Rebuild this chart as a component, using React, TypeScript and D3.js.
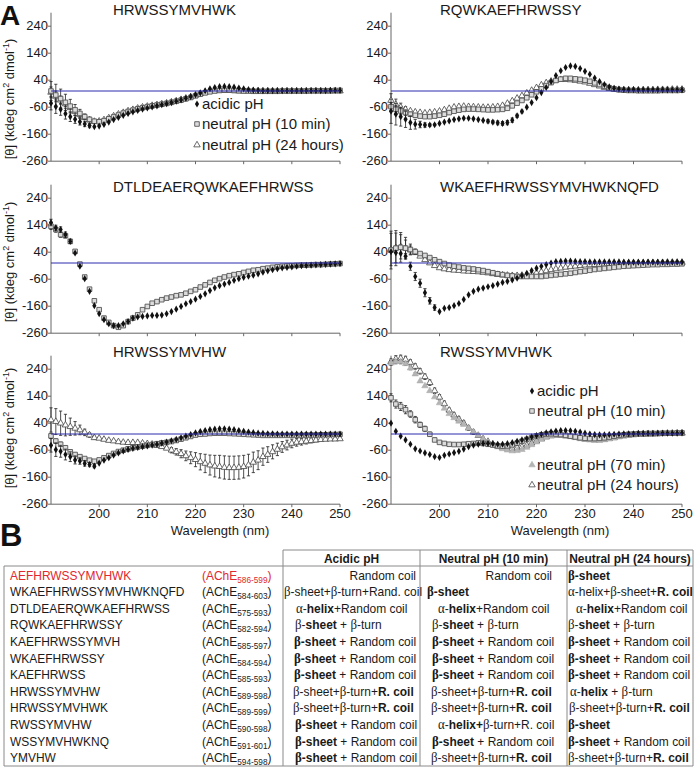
import React from "react";
import * as d3 from "d3";

// ---------------- DATA ----------------
const wavelengths = d3.range(190, 251); // 190..250 nm, 1 nm steps
const yTicks = [-260, -160, -60, 40, 140, 240];
const xTicks = [200, 210, 220, 230, 240, 250];
const xTickLabels = ["200", "210", "220", "230", "240", "250"];

const panelTitles = [
  "HRWSSYMVHWK",
  "RQWKAEFHRWSSY",
  "DTLDEAERQWKAEFHRWSS",
  "WKAEFHRWSSYMVHWKNQFD",
  "HRWSSYMVHW",
  "RWSSYMVHWK",
];

const legendLabels = {
  acidic: "acidic pH",
  n10: "neutral pH (10 min)",
  n70: "neutral pH (70 min)",
  n24: "neutral pH (24 hours)",
};

// Panel 1 HRWSSYMVHWK
const p1Acidic = [-45, -58, -68, -84, -95, -105, -114, -122, -128, -132, -130, -124, -115, -106, -98, -90, -83, -77, -72, -67, -63, -59, -55, -51, -47, -43, -38, -33, -27, -21, -14, -7, 1, 8, 13, 16, 17, 16, 14, 11, 8, 5, 3, 2, 1, 1, 1, 1, 1, 1, 1, 1, 1, 1, 1, 1, 1, 1, 2, 2, 2];
const p1Neutral10 = [0, -15, -28, -42, -56, -70, -83, -95, -105, -112, -114, -110, -103, -96, -89, -82, -76, -71, -66, -62, -58, -55, -52, -49, -46, -42, -38, -34, -29, -24, -18, -12, -7, -3, 0, 2, 3, 3, 2, 1, 0, 0, -1, -1, -1, -1, -1, -1, 0, 0, 0, 0, 0, 0, 1, 1, 1, 1, 1, 2, 2];
const p1Neutral24 = [-5, -20, -34, -48, -62, -76, -88, -99, -108, -113, -112, -107, -100, -93, -86, -80, -74, -69, -64, -60, -57, -54, -51, -48, -45, -41, -37, -32, -27, -22, -16, -10, -5, -1, 1, 2, 2, 2, 1, 0, 0, 0, 0, 0, 0, 0, 0, 0, 0, 0, 0, 0, 0, 0, 0, 0, 0, 0, 0, 0, 0];
const p1AcidicErr = [25, 25, 22, 20, 18, 15, 12, 10, 8];
const p1Neutral10Err = [35, 40, 35, 30, 25, 20, 15, 10, 8, 6];
const p1Neutral24Err = [20, 20, 15, 10];

// Panel 2 RQWKAEFHRWSSY
const p2Acidic = [-75, -86, -95, -105, -117, -123, -124, -126, -126, -125, -120, -115, -111, -106, -103, -101, -101, -103, -106, -109, -112, -115, -118, -120, -117, -108, -92, -76, -60, -43, -25, -6, 13, 35, 57, 75, 87, 93, 91, 83, 73, 62, 48, 35, 24, 15, 10, 7, 6, 5, 5, 4, 4, 4, 4, 4, 4, 4, 4, 4, 4];
const p2Neutral10 = [-58, -68, -74, -80, -86, -90, -93, -95, -95, -93, -90, -86, -80, -75, -71, -68, -67, -67, -68, -69, -70, -70, -69, -68, -64, -55, -45, -35, -25, -14, -3, 8, 20, 31, 39, 44, 47, 47, 45, 43, 40, 36, 30, 24, 18, 12, 8, 5, 3, 2, 2, 1, 1, 1, 1, 1, 2, 2, 2, 2, 3];
const p2Neutral24 = [-35, -50, -60, -68, -74, -78, -80, -82, -80, -78, -75, -70, -65, -60, -58, -57, -58, -59, -60, -61, -61, -60, -58, -54, -46, -37, -27, -18, -8, 2, 12, 22, 30, 36, 40, 42, 42, 41, 39, 36, 33, 28, 23, 18, 13, 9, 6, 4, 3, 3, 3, 3, 4, 4, 4, 5, 5, 5, 6, 6, 6];
const p2AcidicErr = [45, 40, 35, 30, 25, 18, 12, 8, 5, 3, 0, 0, 0, 0, 0, 0, 0, 0, 0, 0, 6, 6, 7, 7, 8, 8, 6, 5];
const p2Neutral10Err = [15, 15, 12, 10, 8, 6];
const p2Neutral24Err = [25, 20, 15, 10];

// Panel 3 DTLDEAERQWKAEFHRWSS
const p3Acidic = [150, 130, 124, 105, 80, 37, -12, -58, -105, -158, -188, -210, -225, -232, -232, -225, -217, -204, -200, -198, -196, -194, -194, -193, -188, -180, -171, -161, -151, -143, -134, -124, -114, -102, -92, -84, -78, -72, -64, -58, -53, -49, -45, -40, -34, -29, -25, -21, -18, -16, -14, -12, -10, -9, -8, -7, -6, -5, -4, -3, -2];
const p3Neutral10 = [136, 124, 105, 101, 80, 43, -4, -52, -97, -140, -173, -204, -220, -232, -238, -232, -217, -204, -192, -173, -161, -149, -143, -136, -130, -126, -121, -118, -112, -105, -99, -89, -81, -72, -64, -58, -52, -47, -43, -40, -35, -31, -27, -25, -21, -19, -16, -14, -12, -11, -10, -9, -8, -8, -7, -6, -6, -5, -4, -3, -2];
const p3AcidicErr = [12, 10, 10, 10, 8];
const p3Neutral10Err = [12, 10, 10, 8, 6];

// Panel 4 WKAEFHRWSSYMVHWKNQFD
const p4Acidic = [42, 38, 35, 25, -12, -50, -75, -110, -140, -165, -180, -168, -165, -158, -150, -135, -118, -105, -97, -93, -88, -84, -78, -72, -68, -63, -56, -47, -38, -28, -19, -12, -6, 0, 5, 6, 7, 7, 6, 5, 5, 4, 4, 4, 4, 4, 4, 4, 3, 3, 3, 3, 3, 3, 3, 3, 3, 3, 3, 3, 3];
const p4Neutral10 = [48, 55, 58, 55, 50, 42, 35, 28, 20, 12, 5, -2, -8, -12, -15, -18, -20, -22, -25, -28, -32, -36, -40, -43, -46, -48, -50, -50, -50, -50, -50, -50, -48, -46, -44, -42, -40, -38, -35, -32, -30, -27, -24, -22, -20, -18, -16, -14, -12, -11, -10, -9, -8, -7, -6, -6, -5, -5, -4, -4, -3];
const p4Neutral24 = [50, 56, 60, 55, 48, 38, 25, 12, 0, -10, -18, -22, -25, -27, -28, -30, -31, -32, -33, -35, -37, -40, -43, -45, -46, -47, -47, -46, -44, -41, -37, -33, -29, -25, -22, -19, -16, -14, -12, -10, -8, -7, -6, -5, -4, -3, -2, -2, -1, -1, 0, 0, 0, 1, 1, 1, 1, 2, 2, 2, 2];
const p4AcidicErr = [0, 0, 0, 10, 15, 15, 15, 15, 12, 10];
const p4Neutral10Err = [70, 65, 55, 40, 20, 10];
const p4Neutral24Err = [60, 55, 45, 30, 15];

// Panel 5 HRWSSYMVHW
const p5Acidic = [-42, -58, -64, -76, -84, -96, -100, -109, -113, -119, -108, -97, -88, -78, -70, -63, -57, -53, -50, -47, -44, -41, -38, -34, -30, -25, -20, -14, -8, -2, 4, 9, 13, 16, 18, 19, 19, 18, 16, 13, 10, 7, 5, 3, 2, 1, 1, 0, 0, 0, 0, 0, 0, 0, 0, 0, 0, 0, 0, 0, 0];
const p5Neutral10 = [-7, -26, -38, -51, -66, -76, -84, -91, -97, -101, -96, -88, -80, -72, -65, -60, -55, -51, -48, -45, -42, -39, -36, -33, -31, -28, -24, -19, -14, -9, -4, -1, 0, 2, 3, 3, 3, 2, 1, 0, -1, -2, -3, -4, -5, -5, -5, -5, -5, -5, -5, -5, -5, -4, -4, -4, -3, -3, -2, -2, -1];
const p5Neutral24 = [52, 46, 40, 33, 27, 21, 15, 6, -4, -14, -16, -20, -24, -26, -29, -31, -32, -32, -32, -34, -36, -38, -43, -47, -53, -60, -66, -73, -81, -88, -95, -103, -109, -115, -119, -121, -124, -125, -125, -124, -121, -115, -105, -97, -84, -76, -66, -57, -48, -41, -35, -31, -29, -27, -25, -23, -21, -20, -19, -19, -18];
const p5AcidicErr = [25, 25, 22, 20, 18, 15, 12, 10, 8, 6];
const p5Neutral10Err = [8, 8, 8, 6, 6, 5];
const p5Neutral24Err = [45, 48, 45, 40, 32, 25, 18, 12, 8, 6, 4, 4, 4, 4, 4, 4, 4, 4, 4, 4, 4, 4, 4, 4, 4, 10, 12, 15, 18, 22, 26, 30, 34, 37, 40, 42, 43, 43, 43, 43, 42, 40, 38, 35, 32, 29, 26, 23, 20, 18, 16, 14, 12, 10, 8, 6];

// Panel 6 RWSSYMVHWK
const p6Acidic = [40, 10, -8, -22, -38, -55, -63, -70, -76, -84, -87, -79, -74, -69, -64, -56, -47, -41, -38, -35, -35, -36, -38, -38, -36, -32, -27, -22, -17, -11, -6, -1, 4, 8, 11, 13, 13, 12, 10, 7, 3, 0, -2, -3, -3, -2, -1, 0, 1, 1, 1, 2, 2, 2, 2, 3, 3, 3, 3, 3, 4];
const p6Neutral10 = [134, 111, 102, 90, 74, 53, 34, 19, -1, -22, -31, -35, -38, -39, -39, -38, -36, -35, -33, -35, -38, -41, -44, -45, -44, -40, -34, -27, -20, -13, -7, -3, 0, 1, 0, -2, -5, -8, -11, -14, -16, -17, -17, -16, -14, -11, -8, -5, -3, -1, 0, 1, 1, 2, 2, 2, 3, 3, 3, 4, 4];
const p6Neutral70 = [262, 268, 268, 260, 244, 222, 196, 178, 160, 137, 115, 95, 75, 60, 47, 35, 22, 8, -5, -18, -30, -40, -48, -55, -60, -63, -62, -58, -50, -40, -30, -20, -12, -7, -5, -5, -7, -10, -14, -18, -21, -23, -24, -24, -22, -19, -15, -11, -8, -5, -3, -2, -1, 0, 0, 1, 1, 2, 2, 2, 3];
const p6Neutral24 = [268, 278, 280, 276, 265, 250, 232, 212, 190, 160, 136, 112, 88, 70, 55, 40, 22, 7, -6, -18, -28, -38, -45, -50, -53, -54, -52, -48, -42, -34, -26, -18, -11, -7, -5, -5, -7, -10, -13, -16, -19, -21, -22, -22, -20, -17, -14, -10, -7, -5, -3, -2, -1, 0, 0, 1, 1, 2, 2, 3, 3];
const p6Neutral10Err = [15, 15, 15, 15, 12, 12, 10, 10, 8, 6];
const p6Neutral70Err = [8, 8, 8, 6, 6, 5];
const p6Neutral24Err = [10, 12, 12, 12, 10, 10, 10, 10, 10, 10, 10, 10, 8, 8, 8, 8, 8, 8];

// Table B
const tableHeaders = ["Acidic pH", "Neutral pH (10 min)", "Neutral pH (24 hours)"];
const peptideNames = ["AEFHRWSSYMVHWK", "WKAEFHRWSSYMVHWKNQFD", "DTLDEAERQWKAEFHRWSS", "RQWKAEFHRWSSY", "KAEFHRWSSYMVH", "WKAEFHRWSSY", "KAEFHRWSS", "HRWSSYMVHW", "HRWSSYMVHWK", "RWSSYMVHW", "WSSYMVHWKNQ", "YMVHW"];
const peptideRanges = ["586-599", "584-603", "575-593", "582-594", "585-597", "584-594", "585-593", "589-598", "589-599", "590-598", "591-601", "594-598"];
const acidicStructure = ["Random coil", "β-sheet+β-turn+Rand. coil", "α-**helix**+Random coil", "β-**sheet** + β-turn", "**β-sheet** + Random coil", "**β-sheet** + Random coil", "**β-sheet** + Random coil", "β-sheet+β-turn+**R. coil**", "β-sheet+β-turn+**R. coil**", "**β-sheet** + Random coil", "**β-sheet** + Random coil", "**β-sheet** + Random coil"];
const neutral10Structure = ["Random coil", "**β-sheet**", "α-**helix**+Random coil", "β-**sheet** + β-turn", "**β-sheet** + Random coil", "**β-sheet** + Random coil", "**β-sheet** + Random coil", "β-sheet+β-turn+**R. coil**", "β-sheet+β-turn+**R. coil**", "α-**helix+**β-turn+R. coil", "**β-sheet** + Random coil", "β-sheet+β-turn+**R. coil**"];
const neutral24Structure = ["**β-sheet**", "α-helix+β-sheet+**R. coil**", "α-**helix**+Random coil", "β-**sheet** + β-turn", "**β-sheet** + Random coil", "**β-sheet** + Random coil", "**β-sheet** + Random coil", "α-**helix** + β-turn", "β-sheet+β-turn+**R. coil**", "**β-sheet**", "**β-sheet** + Random coil", "β-sheet+β-turn+**R. coil**"];

// ---------------- LAYOUT / STYLE ----------------
const FONT = "'Liberation Sans', Arial, Helvetica, sans-serif";
const SERIF = "'Liberation Serif', 'Times New Roman', serif";
const colBounds = [[51, 340], [391, 682]];
const rowZero = [91, 263, 434];
const PX = 0.27;
const titleX = [113, 440];
const titleBase = [15, 192, 357];
const yTitleCenter = [99, 262, 428];

// cell indents (null = right aligned)
const cellIndent = [
  [null, 1, 13, 12, 11, 11, 11, 10, 10, 12, 12, 12],
  [null, 7, 18, 12, 12, 12, 12, 11, 11, 18, 12, 11],
  [1, 1, 9, 1, 1, 1, 1, 3, 2, 1, 1, 1],
];
const colLeft = [283, 420, 567, 693];
const SQ = 0.92;

const symDiamond = d3.symbol(d3.symbolDiamond, 15)();
const symSquare = d3.symbol(d3.symbolSquare, 21)();
const symTriangle = d3.symbol(d3.symbolTriangle, 18)();

const styles: any = {
  acidic: { d: symDiamond, fill: "#111", stroke: "none", sw: 0 },
  n10: { d: symSquare, fill: "#dcdcdc", stroke: "#555", sw: 0.9 },
  n70: { d: symTriangle, fill: "#b4b4b4", stroke: "#a8a8a8", sw: 0.5 },
  n24: { d: symTriangle, fill: "#fff", stroke: "#444", sw: 0.8 },
};

type Series = { key: string; values: number[]; err?: number[] };

const panels: { title: string; series: Series[]; legend?: { key: string; dy: number }[] }[] = [
  {
    title: panelTitles[0],
    series: [
      { key: "n24", values: p1Neutral24, err: p1Neutral24Err },
      { key: "n10", values: p1Neutral10, err: p1Neutral10Err },
      { key: "acidic", values: p1Acidic, err: p1AcidicErr },
    ],
  },
  {
    title: panelTitles[1],
    series: [
      { key: "n24", values: p2Neutral24, err: p2Neutral24Err },
      { key: "n10", values: p2Neutral10, err: p2Neutral10Err },
      { key: "acidic", values: p2Acidic, err: p2AcidicErr },
    ],
  },
  {
    title: panelTitles[2],
    series: [
      { key: "n10", values: p3Neutral10, err: p3Neutral10Err },
      { key: "acidic", values: p3Acidic, err: p3AcidicErr },
    ],
  },
  {
    title: panelTitles[3],
    series: [
      { key: "n24", values: p4Neutral24, err: p4Neutral24Err },
      { key: "n10", values: p4Neutral10, err: p4Neutral10Err },
      { key: "acidic", values: p4Acidic, err: p4AcidicErr },
    ],
  },
  {
    title: panelTitles[4],
    series: [
      { key: "n24", values: p5Neutral24, err: p5Neutral24Err },
      { key: "n10", values: p5Neutral10, err: p5Neutral10Err },
      { key: "acidic", values: p5Acidic, err: p5AcidicErr },
    ],
  },
  {
    title: panelTitles[5],
    series: [
      { key: "n24", values: p6Neutral24, err: p6Neutral24Err },
      { key: "n70", values: p6Neutral70, err: p6Neutral70Err },
      { key: "n10", values: p6Neutral10, err: p6Neutral10Err },
      { key: "acidic", values: p6Acidic },
    ],
  },
];

const legends: Record<number, { x: number; items: { key: string; y: number }[] }> = {
  0: { x: 197, items: [{ key: "acidic", y: 104 }, { key: "n10", y: 124 }, { key: "n24", y: 145 }] },
  5: { x: 532, items: [{ key: "acidic", y: 391 }, { key: "n10", y: 411 }, { key: "n70", y: 465 }, { key: "n24", y: 485 }] },
};

function Panel({ idx }: { idx: number }) {
  const col = idx % 2;
  const row = Math.floor(idx / 2);
  const p = panels[idx];
  const [x0, x1] = colBounds[col];
  const z = rowZero[row];
  const x = d3.scaleLinear().domain([190, 250]).range([x0, x1]);
  const y = d3.scaleLinear().domain([-260, 290]).range([z + 260 * PX, z - 290 * PX]);
  const yb = y(-260);
  const lg = legends[idx];
  return (
    <g>
      <text x={titleX[col]} y={titleBase[row]} fontSize={15} fill="#1a1a1a">{p.title}</text>
      {/* y axis */}
      <line x1={x0} x2={x0} y1={y(290)} y2={yb} stroke="#666" strokeWidth={1} />
      {yTicks.map((t) => (
        <g key={t}>
          <line x1={x0 - 3} x2={x0} y1={y(t)} y2={y(t)} stroke="#666" />
          <text x={x0 - 3} y={y(t) - 1} dy="0.35em" textAnchor="end" fontSize={13} fill="#1a1a1a">{String(t)}</text>
        </g>
      ))}
      {/* x axis */}
      <line x1={x0} x2={x1} y1={yb} y2={yb} stroke="#666" strokeWidth={1} />
      {xTicks.map((t, i) => (
        <g key={t}>
          <line x1={x(t)} x2={x(t)} y1={yb} y2={yb + 3} stroke="#666" />
          {row === 2 && (
            <text x={x(t)} y={yb + 14} textAnchor="middle" fontSize={13} fill="#1a1a1a">{xTickLabels[i]}</text>
          )}
        </g>
      ))}
      {row === 2 && (
        <text x={x0 + 169} y={535} textAnchor="middle" fontSize={13} fill="#1a1a1a">Wavelength (nm)</text>
      )}
      {/* series */}
      {p.series.map((s) => {
        const st = styles[s.key];
        return (
          <g key={s.key}>
            {s.values.map((v, i) => {
              const e = s.err && s.err[i] ? s.err[i] : 0;
              if (!e) return null;
              const cx = x(wavelengths[i]);
              return (
                <g key={"e" + i} stroke="#222" strokeWidth={0.8}>
                  <line x1={cx} x2={cx} y1={y(v - e)} y2={y(v + e)} />
                  <line x1={cx - 1.6} x2={cx + 1.6} y1={y(v + e)} y2={y(v + e)} />
                  <line x1={cx - 1.6} x2={cx + 1.6} y1={y(v - e)} y2={y(v - e)} />
                </g>
              );
            })}
            {s.values.map((v, i) => (
              <path
                key={i}
                d={st.d}
                transform={`translate(${x(wavelengths[i])},${y(v)})`}
                fill={st.fill}
                stroke={st.stroke}
                strokeWidth={st.sw}
              />
            ))}
          </g>
        );
      })}
      {/* zero line */}
      <line x1={x0} x2={x1} y1={y(0)} y2={y(0)} stroke="#2b2bb0" strokeWidth={1} />
      {lg &&
        lg.items.map((it) => {
          const st = styles[it.key];
          return (
            <g key={it.key}>
              <path d={st.d} transform={`translate(${lg.x},${it.y})`} fill={st.fill} stroke={st.stroke} strokeWidth={st.sw} />
              <text x={lg.x + 5} y={it.y} dy="0.35em" fontSize={15} fill="#1a1a1a">{(legendLabels as any)[it.key]}</text>
            </g>
          );
        })}
    </g>
  );
}

function rich(s: string, keyBase: string) {
  const out: any[] = [];
  s.split("**").forEach((part, i) => {
    const bold = i % 2 === 1;
    part.split(/([αβ])/).forEach((c, j) => {
      if (!c) return;
      const greek = c === "α" || c === "β";
      out.push(
        <tspan key={`${keyBase}-${i}-${j}`} fontWeight={bold ? "bold" : "normal"} fontFamily={greek ? SERIF : FONT} fontSize={greek ? 14 : 13}>
          {c}
        </tspan>
      );
    });
  });
  return out;
}

function Table() {
  const rowY = (i: number) => 575 + 16.6 * i;
  const structures = [acidicStructure, neutral10Structure, neutral24Structure];
  const rightEnd = [416, 552, 690];
  const lc = "#8a8a8a";
  return (
    <g fill="#1a1a1a" style={{ whiteSpace: "pre" }}>
      {/* lines */}
      <line x1={283} x2={693} y1={550} y2={550} stroke={lc} />
      <line x1={4} x2={693} y1={566} y2={566} stroke={lc} />
      <line x1={4} x2={693} y1={766} y2={766} stroke={lc} />
      <line x1={4} x2={4} y1={566} y2={766} stroke={lc} />
      {colLeft.map((cx) => (
        <line key={cx} x1={cx} x2={cx} y1={550} y2={766} stroke={lc} />
      ))}
      {tableHeaders.map((h, c) => (
        <text key={h} transform={`translate(${(colLeft[c] + colLeft[c + 1]) / 2},562.5) scale(${SQ},1)`} textAnchor="middle" fontSize={13} fontWeight="bold">
          {h}
        </text>
      ))}
      {peptideNames.map((n, r) => (
        <g key={n + r} fill={r === 0 ? "#e0282e" : "#1a1a1a"}>
          <text transform={`translate(10,${rowY(r) + 4.5}) scale(${SQ},1)`} fontSize={13}>{n}</text>
          <text transform={`translate(202,${rowY(r) + 4.5}) scale(${SQ},1)`} fontSize={13}>
            (AChE<tspan fontSize={9} dy={3}>{peptideRanges[r]}</tspan>
            <tspan dy={-3}>)</tspan>
          </text>
        </g>
      ))}
      {structures.map((col, c) =>
        col.map((s, r) => {
          const ind = cellIndent[c][r];
          const right = ind === null;
          const tx = right ? rightEnd[c] : colLeft[c] + (ind as number);
          return (
            <text
              key={`${c}-${r}`}
              transform={`translate(${tx},${rowY(r) + 4.5}) scale(${SQ},1)`}
              textAnchor={right ? "end" : "start"}
              fontSize={13}
            >
              {rich(s, `${c}-${r}`)}
            </text>
          );
        })
      )}
    </g>
  );
}

export default function App() {
  return (
    <div style={{ position: "absolute", left: 0, top: 0 }}>
      <svg width={700} height={767} viewBox="0 0 700 767" style={{ display: "block", background: "#fff", fontFamily: FONT }}>
        <rect x={0} y={0} width={700} height={767} fill="#fff" />
        <text x={0} y={25} fontSize={28} fontWeight="bold" fill="#111">A</text>
        <text x={0} y={546} fontSize={31} fontWeight="bold" fill="#111">B</text>
        {yTitleCenter.map((cy, i) => (
          <text key={i} transform={`translate(14,${cy}) rotate(-90)`} textAnchor="middle" fontSize={13} fill="#1a1a1a">
            [θ] (kdeg cm<tspan fontSize={9} dy={-5}>2</tspan>
            <tspan dy={5}> dmol</tspan>
            <tspan fontSize={9} dy={-5}>-1</tspan>
            <tspan dy={5}>)</tspan>
          </text>
        ))}
        {panels.map((_, i) => (
          <Panel key={i} idx={i} />
        ))}
        <Table />
      </svg>
    </div>
  );
}
